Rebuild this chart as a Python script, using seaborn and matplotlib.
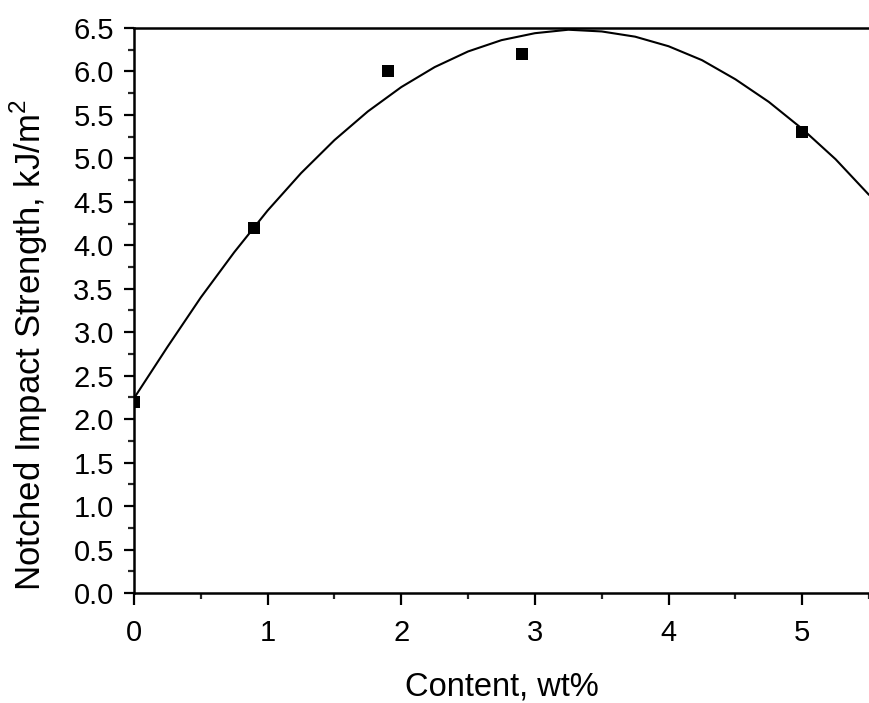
#!/usr/bin/env python3
"""Notched impact strength vs content, with fitted curve."""
import matplotlib
matplotlib.use("Agg")
import matplotlib.pyplot as plt
import pandas as pd
import seaborn as sns
from matplotlib.ticker import MultipleLocator

# measured points
content = [0.0, 0.9, 1.9, 2.9, 5.0]
strength = [2.2, 4.2, 6.0, 6.2, 5.3]

# fitted curve
curve_x = [0.0, 0.25, 0.5, 0.75, 1.0, 1.25, 1.5, 1.75, 2.0, 2.25, 2.5, 2.75,
           3.0, 3.25, 3.5, 3.75, 4.0, 4.25, 4.5, 4.75, 5.0, 5.25, 5.5]
curve_y = [2.24, 2.83, 3.40, 3.92, 4.40, 4.83, 5.21, 5.54, 5.82, 6.05, 6.23, 6.36,
           6.44, 6.48, 6.46, 6.40, 6.29, 6.13, 5.91, 5.65, 5.34, 4.99, 4.58]

x_ticks = [0, 1, 2, 3, 4, 5]
y_ticks = [0.0, 0.5, 1.0, 1.5, 2.0, 2.5, 3.0, 3.5, 4.0, 4.5, 5.0, 5.5, 6.0, 6.5]

sns.set_theme(style="ticks")
plt.rcParams["font.family"] = ["Liberation Sans", "DejaVu Sans"]
plt.rcParams["mathtext.fontset"] = "custom"
plt.rcParams["mathtext.rm"] = "Liberation Sans"
plt.rcParams["text.color"] = "black"
plt.rcParams["axes.labelcolor"] = "black"

pts = pd.DataFrame({"content": content, "strength": strength})
fit = pd.DataFrame({"x": curve_x, "y": curve_y})

fig = plt.figure(figsize=(8.69, 7.03), dpi=100)
ax = fig.add_axes([0.1542, 0.1565, 0.8458, 0.8037])

sns.lineplot(data=fit, x="x", y="y", ax=ax, color="black", linewidth=1.5,
             sort=False, estimator=None)
sns.scatterplot(data=pts, x="content", y="strength", ax=ax, marker="s",
                color="black", s=72, edgecolor="black", linewidth=0, zorder=3)

ax.set_xlim(0, 5.5)
ax.set_ylim(0, 6.5)
ax.set_xticks(x_ticks)
ax.set_xticklabels([str(t) for t in x_ticks])
ax.set_yticks(y_ticks)
ax.set_yticklabels([f"{t:.1f}" for t in y_ticks])
ax.xaxis.set_minor_locator(MultipleLocator(0.5))
ax.yaxis.set_minor_locator(MultipleLocator(0.25))

ax.tick_params(which="major", direction="out", length=7.5, width=1.6,
               labelsize=21, colors="black", pad=7)
ax.tick_params(which="minor", direction="out", length=4, width=1.6)
ax.tick_params(axis="x", which="major", length=8.5, pad=10)

for side in ("left", "bottom", "top"):
    ax.spines[side].set_linewidth(1.8)
    ax.spines[side].set_color("black")
ax.spines["top"].set_visible(True)
ax.spines["right"].set_visible(False)

ax.set_xlabel("Content, wt%", fontsize=23.5, labelpad=18)
ax.set_ylabel("Notched Impact Strength, kJ/m$^2$", fontsize=25)
ax.yaxis.set_label_coords(-0.114, 0.439)

fig.savefig("out.png", dpi=100)
